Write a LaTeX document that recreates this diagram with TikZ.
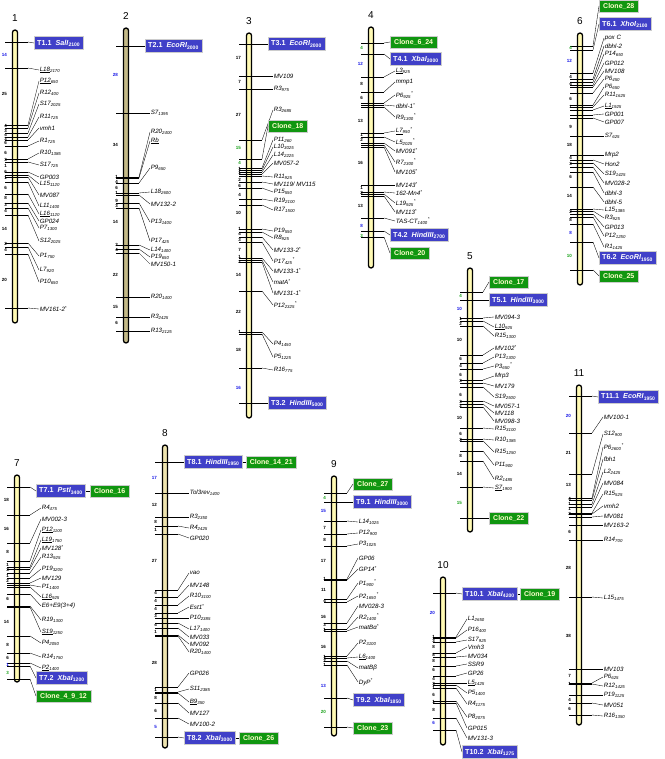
\documentclass[tikz,border=0pt]{standalone}
\usepackage{fontspec}
\setmainfont{Liberation Sans}
\usepackage{tikz}
\usetikzlibrary{positioning}
\definecolor{tblue}{RGB}{64,64,200}
\definecolor{cgreen}{RGB}{16,150,16}
\definecolor{ctext}{RGB}{255,255,205}
\definecolor{chryellow}{RGB}{255,250,180}
\definecolor{chrkhaki}{RGB}{196,186,136}
\definecolor{chrbeige}{RGB}{238,228,176}
\definecolor{distblue}{RGB}{20,20,230}
\definecolor{distgreen}{RGB}{20,160,20}
\tikzset{
  chrbar/.style={draw=black, line width=1.3pt, rounded corners=2.5pt, fill=chryellow},
  tickline/.style={line width=0.8pt},
  lead/.style={line width=0.35pt},
  mlab/.style={anchor=west, inner sep=0.6pt, font=\fontsize{6.2}{6.5}\selectfont\itshape},
  tbox/.style={anchor=west, fill=tblue, draw=gray!40, text=white, inner xsep=3pt,
    inner ysep=0pt, minimum height=13pt, font=\fontsize{7.2}{8}\selectfont\bfseries},
  cbox/.style={anchor=west, fill=cgreen, draw=gray!40, text=ctext, inner xsep=4pt,
    inner ysep=0pt, minimum height=12pt, font=\fontsize{7}{8}\selectfont\bfseries},
  dist/.style={anchor=east, inner sep=0pt, font=\fontsize{4.5}{5}\selectfont\bfseries},
  chrnum/.style={font=\fontsize{10}{11}\selectfont}
}
\newcounter{mkc}
\newcounter{dkc}
\newcommand{\lo}[1]{\textsubscript{#1}}
\newcommand{\sta}{\textsuperscript{*}}
% chromosome: name, x, top, bottom, number, fill
\newcommand{\chrom}[6]{%
  \draw[chrbar, fill=#6] (#2-2.5,#3) rectangle (#2+2.5,#4);
  \node[chrnum] (#1) at (#2,#3-12) {#5};}
% marker: x, tick y, label y, label
\newcommand{\mk}[4]{%
  \stepcounter{mkc}\edef\mkn{\arabic{mkc}}%
  \draw[tickline] (#1-10,#2) -- (#1+13,#2) coordinate (t\mkn);
  \node[mlab] (m\mkn) at (#1+24,#3) {#4};
  \draw[lead] (t\mkn) -- (m\mkn.west);}
% insertion box: name, x, tick y, box y, text
\newcommand{\tb}[5]{%
  \draw[tickline] (#2-10,#3) -- (#2+13,#3) coordinate (#1t);
  \node[tbox] (#1) at (#2+19,#4) {#5};
  \draw[lead] (#1t) -- (#1.west);}
% clone box: name, x, tick y, box y, text
\newcommand{\cb}[5]{%
  \draw[tickline] (#2-10,#3) -- (#2+13,#3) coordinate (#1t);
  \node[cbox] (#1) at (#2+19,#4) {#5};
  \draw[lead] (#1t) -- (#1.west);}
% distance: x, y, text
\newcommand{\dn}[3]{\stepcounter{dkc}\node[dist] (d\arabic{dkc}) at (#1-8,#2) {#3};}

\begin{document}
\begin{tikzpicture}[x=1pt, y=-1pt]
\useasboundingbox (0,0) rectangle (664,759);

% chromosome 1
\chrom{n1}{15}{30}{323}{1}{chryellow}
\tb{T11}{15}{42}{43}{T1.1\ \ \textit{SalI}\lo{2100}}
\mk{15}{68}{70}{\underline{L18}\lo{2170}}
\mk{15}{125}{81}{\underline{P12}\lo{650}}
\mk{15}{128}{93}{R12\lo{400}}
\mk{15}{133}{104}{S17\lo{2025}}
\mk{15}{137}{117}{R11\lo{725}}
\mk{15}{140}{128}{vmh1}
\mk{15}{146}{141}{R1\lo{725}}
\mk{15}{159}{153}{R10\lo{1385}}
\mk{15}{162}{165}{S17\lo{725}}
\mk{15}{172}{177}{GP003}
\mk{15}{175}{184}{L15\lo{1120}}
\mk{15}{177}{195}{MV087}
\mk{15}{182}{206}{L11\lo{1400}}
\mk{15}{194}{214}{\underline{L16}\lo{1120}}
\mk{15}{203}{221}{GP024}
\mk{15}{208}{228}{P7\lo{1300}}
\mk{15}{215}{241}{S12\lo{2025}}
\mk{15}{243}{256}{P1\lo{750}}
\mk{15}{247}{270}{L7\lo{920}}
\mk{15}{254}{282}{P10\lo{650}}
\mk{15}{308}{309}{MV161-2\sta}
\dn{15}{55}{\color{distblue}14}
\dn{15}{94}{25}
\dn{15}{126}{4}\dn{15}{131}{3}\dn{15}{135}{4}\dn{15}{139}{3}\dn{15}{143}{6}
\dn{15}{153}{6}\dn{15}{160}{3}\dn{15}{166}{1}\dn{15}{172}{6}\dn{15}{178}{1}
\dn{15}{188}{6}\dn{15}{198}{8}\dn{15}{205}{3}\dn{15}{211}{4}\dn{15}{229}{14}
\dn{15}{244}{2}\dn{15}{250}{4}\dn{15}{280}{20}

% chromosome 2
\chrom{n2}{126}{28}{343}{2}{chrkhaki}
\tb{T21}{126}{46}{46}{T2.1\ \ \textit{EcoRI}\lo{2000}}
\mk{126}{113}{113}{S7\lo{1395}}
\mk{126}{177}{132}{R20\lo{2400}}
\mk{126}{178}{141}{\underline{Rb}}
\mk{126}{183}{168}{P9\lo{650}}
\mk{126}{193}{192}{L18\lo{2600}}
\mk{126}{195}{204}{MV132-2}
\mk{126}{203}{222}{P13\lo{1400}}
\mk{126}{208}{241}{P17\lo{425}}
\mk{126}{245}{250}{L14\lo{1400}}
\mk{126}{249}{257}{P19\lo{650}}
\mk{126}{253}{264}{MV150-1}
\mk{126}{297}{297}{R20\lo{1400}}
\mk{126}{317}{317}{R3\lo{2425}}
\mk{126}{331}{331}{R13\lo{2125}}
\dn{126}{75}{\color{distblue}28}
\dn{126}{145}{34}
\dn{126}{177}{1}\dn{126}{182}{4}\dn{126}{188}{6}\dn{126}{193}{1}\dn{126}{201}{9}
\dn{126}{206}{3}\dn{126}{222}{14}\dn{126}{245}{3}\dn{126}{250}{4}\dn{126}{275}{22}
\dn{126}{307}{15}\dn{126}{323}{6}

% chromosome 3
\chrom{n3}{249}{33}{418}{3}{chryellow}
\tb{T31}{249}{44}{44}{T3.1\ \ \textit{EcoRI}\lo{2000}}
\mk{249}{76}{76}{MV109}
\mk{249}{89}{89}{R3\lo{975}}
\mk{249}{140}{110}{R3\lo{2685}}
\cb{C18}{249}{159}{126}{Clone\_18}
\mk{249}{168}{140}{P11\lo{260}}
\mk{249}{170}{147}{L10\lo{3025}}
\mk{249}{172}{155}{L14\lo{2225}}
\mk{249}{174}{163}{MV057-2}
\mk{249}{176}{177}{R11\lo{925}}
\mk{249}{182}{184}{MV119/ MV115}
\mk{249}{188}{192}{P15\lo{550}}
\mk{249}{199}{201}{R19\lo{2100}}
\mk{249}{205}{210}{R17\lo{1500}}
\mk{249}{229}{231}{P19\lo{550}}
\mk{249}{232}{238}{R8\lo{925}}
\mk{249}{237}{250}{MV133-2\sta}
\mk{249}{242}{261}{P17\lo{425}\sta}
\mk{249}{258}{271}{MV133-1\sta}
\mk{249}{260}{282}{matA\sta}
\mk{249}{262}{293}{MV131-1\sta}
\mk{249}{291}{305}{P12\lo{2325}\sta}
\mk{249}{332}{344}{P4\lo{1450}}
\mk{249}{334}{357}{P5\lo{1225}}
\mk{249}{368}{370}{R16\lo{775}}
\tb{T32}{249}{403}{403}{T3.2\ \ \textit{HindIII}\lo{5000}}
\dn{249}{58}{17}\dn{249}{82}{7}\dn{249}{115}{27}
\dn{249}{148}{\color{distgreen}15}\dn{249}{163}{\color{distgreen}4}
\dn{249}{169}{1}\dn{249}{173}{1}\dn{249}{180}{2}\dn{249}{186}{6}\dn{249}{195}{4}
\dn{249}{213}{10}\dn{249}{229}{1}\dn{249}{234}{4}\dn{249}{240}{3}\dn{249}{250}{7}
\dn{249}{257}{1}\dn{249}{262}{2}\dn{249}{275}{14}\dn{249}{312}{22}\dn{249}{332}{1}
\dn{249}{350}{18}\dn{249}{388}{\color{distblue}16}

% chromosome 4
\chrom{n4}{371}{27}{268}{4}{chryellow}
\cb{C624}{371}{43}{42}{Clone\_6\_24}
\tb{T41}{371}{54}{59}{T4.1\ \ \textit{XbaI}\lo{2000}}
\mk{371}{77}{71}{\underline{L3}\lo{925}}
\mk{371}{92}{82}{mmp1}
\mk{371}{103}{95}{P6\lo{925}\sta}
\mk{371}{105}{106}{dbhl-1\sta}
\mk{371}{107}{117}{R9\lo{1300}\sta}
\mk{371}{133}{131}{\underline{L7}\lo{950}\sta}
\mk{371}{137}{142}{L5\lo{2025}\sta}
\mk{371}{143}{151}{MV091\sta}
\mk{371}{145}{162}{R7\lo{2300}\sta}
\mk{371}{147}{172}{MV105\sta}
\mk{371}{185}{185}{MV143\sta}
\mk{371}{192}{193}{162-Mn4\sta}
\mk{371}{194}{203}{L19\lo{925}\sta}
\mk{371}{196}{212}{MV113\sta}
\mk{371}{218}{221}{TAS-CT\lo{1400}\sta}
\tb{T42}{371}{231}{235}{T4.2\ \ \textit{HindIII}\lo{2700}}
\cb{C20}{371}{237}{253}{Clone\_20}
\dn{371}{48}{\color{distgreen}4}\dn{371}{64}{\color{distblue}12}
\dn{371}{84}{8}\dn{371}{98}{6}\dn{371}{121}{13}\dn{371}{135}{1}\dn{371}{140}{2}
\dn{371}{163}{16}\dn{371}{188}{1}\dn{371}{193}{2}\dn{371}{206}{13}
\dn{371}{226}{\color{distblue}8}\dn{371}{236}{\color{distgreen}3}

% chromosome 5
\chrom{n5}{470}{268}{532}{5}{chryellow}
\cb{C17}{470}{292}{282}{Clone\_17}
\tb{T51}{470}{300}{300}{T5.1\ \ \textit{HindIII}\lo{3000}}
\mk{470}{318}{317}{MV094-3}
\mk{470}{321}{327}{\underline{L10}\lo{925}}
\mk{470}{326}{336}{R15\lo{1300}}
\mk{470}{355}{348}{MV102\sta}
\mk{470}{363}{357}{P13\lo{1300}}
\mk{470}{369}{366}{P3\lo{650}\sta}
\mk{470}{380}{376}{Mrp3}
\mk{470}{383}{386}{MV179}
\mk{470}{387}{397}{S19\lo{2500}}
\mk{470}{401}{406}{MV057-1}
\mk{470}{404}{413}{MV118}
\mk{470}{407}{421}{MV098-3}
\mk{470}{428}{429}{R15\lo{3100}}
\mk{470}{439}{440}{R10\lo{1385}}
\mk{470}{441}{452}{R15\lo{1250}}
\mk{470}{451}{465}{P11\lo{900}}
\mk{470}{461}{479}{R2\lo{1485}}
\mk{470}{487}{488}{\underline{S7}\lo{1900}}
\cb{C22}{470}{518}{518}{Clone\_22}
\dn{470}{296}{\color{distgreen}4}\dn{470}{309}{\color{distblue}10}
\dn{470}{319}{1}\dn{470}{324}{2}\dn{470}{340}{10}\dn{470}{359}{6}\dn{470}{366}{4}
\dn{470}{375}{6}\dn{470}{381}{3}\dn{470}{395}{6}\dn{470}{402}{3}\dn{470}{406}{2}
\dn{470}{418}{10}\dn{470}{434}{6}\dn{470}{440}{3}\dn{470}{456}{8}\dn{470}{474}{14}
\dn{470}{503}{\color{distgreen}15}

% chromosome 6
\chrom{n6}{580}{33}{285}{6}{chryellow}
\cb{C28}{580}{46}{6}{Clone\_28}
\tb{T61}{580}{50}{24}{T6.1\ \ \textit{XhoI}\lo{2100}}
\mk{580}{73}{38}{pox C}
\mk{580}{79}{46}{dbhl-2}
\mk{580}{82}{54}{P14\lo{650}}
\mk{580}{85}{63}{GP012}
\mk{580}{87}{71}{MV108}
\mk{580}{93}{79}{P6\lo{450}}
\mk{580}{105}{87}{P6\lo{650}}
\mk{580}{107}{95}{R11\lo{1625}}
\mk{580}{110}{106}{\underline{L1}\lo{1925}}
\mk{580}{115}{114}{GP001}
\mk{580}{118}{122}{GP007}
\mk{580}{136}{136}{S7\lo{625}}
\mk{580}{155}{155}{Mrp2}
\mk{580}{160}{164}{Hon2}
\mk{580}{163}{174}{S19\lo{1425}}
\mk{580}{167}{183}{MV028-2}
\mk{580}{172}{193}{dbhl-3}
\mk{580}{187}{202}{dbhl-5}
\mk{580}{209}{210}{L15\lo{1385}}
\mk{580}{211}{218}{R3\lo{925}}
\mk{580}{214}{227}{GP013}
\mk{580}{217}{236}{P12\lo{1250}}
\mk{580}{224}{247}{R1\lo{1425}}
\tb{T62}{580}{242}{258}{T6.2\ \ \textit{EcoRI}\lo{1950}}
\cb{C25}{580}{270}{276}{Clone\_25}
\dn{580}{48}{\color{distgreen}4}\dn{580}{61}{\color{distblue}12}
\dn{580}{77}{4}\dn{580}{84}{4}\dn{580}{99}{6}\dn{580}{107}{1}\dn{580}{127}{9}
\dn{580}{145}{18}\dn{580}{158}{4}\dn{580}{164}{3}\dn{580}{177}{6}\dn{580}{196}{14}
\dn{580}{212}{2}\dn{580}{220}{8}\dn{580}{233}{\color{distblue}8}
\dn{580}{256}{\color{distgreen}10}

% chromosome 7
\chrom{n7}{17}{475}{682}{7}{chryellow}
\tb{T71}{17}{487}{491}{T7.1\ \ \textit{PstI}\lo{3400}}
\node[cbox, right=4pt of T71] (C16) {Clone\_16};
\draw[lead] (T71) -- (C16);
\mk{17}{515}{508}{R4\lo{475}}
\mk{17}{543}{519}{MV002-3}
\mk{17}{561}{530}{\underline{P12}\lo{1100}}
\mk{17}{567}{540}{\underline{L19}\lo{1750}}
\mk{17}{569}{548}{MV128\sta}
\mk{17}{573}{557}{R13\lo{925}}
\mk{17}{578}{569}{P19\lo{3200}}
\mk{17}{583}{578}{MV129}
\mk{17}{585}{587}{P1\lo{1400}}
\mk{17}{587}{597}{\underline{L16}\lo{925}}
\mk{17}{594}{606}{E6+E9(3+4)}
\mk{17}{606}{620}{R19\lo{1300}}
\mk{17}{607}{632}{\underline{S19}\lo{1250}}
\mk{17}{636}{643}{P4\lo{2050}}
\mk{17}{653}{657}{R14\lo{1750}}
\mk{17}{663}{668}{\underline{P2}\lo{1400}}
\tb{T72}{17}{666}{678}{T7.2\ \ \textit{XbaI}\lo{1200}}
\cb{C4912}{17}{679}{696}{Clone\_4\_9\_12}
\dn{17}{500}{18}\dn{17}{529}{16}\dn{17}{552}{8}\dn{17}{565}{1}\dn{17}{570}{3}
\dn{17}{576}{1}\dn{17}{581}{2}\dn{17}{599}{6}\dn{17}{622}{14}\dn{17}{645}{8}
\dn{17}{658}{6}\dn{17}{665}{\color{distblue}1}\dn{17}{673}{\color{distgreen}3}

% chromosome 8
\chrom{n8}{165}{445}{748}{8}{chrbeige}
\tb{T81}{165}{462}{462}{T8.1\ \ \textit{HindIII}\lo{1950}}
\node[cbox, right=3pt of T81] (C1421) {Clone\_14\_21};
\draw[lead] (T81) -- (C1421);
\mk{165}{493}{493}{Tol3rev\lo{1400}}
\mk{165}{517}{517}{R3\lo{2350}}
\mk{165}{526}{528}{R4\lo{2425}}
\mk{165}{534}{538}{GP020}
\mk{165}{590}{573}{vao}
\mk{165}{597}{585}{MV148}
\mk{165}{605}{596}{R10\lo{3100}}
\mk{165}{613}{607}{Est1\sta}
\mk{165}{618}{618}{P10\lo{2385}}
\mk{165}{623}{629}{L17\lo{1400}}
\mk{165}{628}{637}{MV033}
\mk{165}{635}{644}{MV092}
\mk{165}{636}{652}{R20\lo{1400}}
\mk{165}{687}{673}{GP026}
\mk{165}{692}{689}{S11\lo{2385}}
\mk{165}{693}{702}{\underline{B9}\lo{350}}
\mk{165}{703}{713}{MV127}
\mk{165}{718}{724}{MV100-2}
\tb{T82}{165}{737}{738}{T8.2\ \ \textit{XbaI}\lo{3000}}
\node[cbox, right=3pt of T82] (C26) {Clone\_26};
\draw[lead] (T82) -- (C26);
\dn{165}{478}{\color{distblue}17}\dn{165}{505}{12}\dn{165}{522}{8}\dn{165}{530}{1}
\dn{165}{561}{27}\dn{165}{593}{4}\dn{165}{601}{4}\dn{165}{609}{4}\dn{165}{616}{3}
\dn{165}{625}{4}\dn{165}{632}{1}\dn{165}{663}{28}\dn{165}{690}{1}\dn{165}{698}{8}
\dn{165}{711}{6}\dn{165}{727}{\color{distblue}5}

% chromosome 9
\chrom{n9}{334}{476}{736}{9}{chryellow}
\cb{C27}{334}{493}{484}{Clone\_27}
\tb{T91}{334}{502}{502}{T9.1\ \ \textit{HindIII}\lo{3000}}
\mk{334}{521}{522}{L14\lo{1025}}
\mk{334}{534}{533}{P12\lo{900}}
\mk{334}{546}{544}{P3\lo{1025}}
\mk{334}{579}{558}{GP06}
\mk{334}{580}{569}{GP14\sta}
\mk{334}{599}{583}{P1\lo{900}\sta}
\mk{334}{602}{596}{P2\lo{1650}\sta}
\mk{334}{623}{606}{MV028-3}
\mk{334}{629}{617}{R2\lo{1400}\sta}
\mk{334}{631}{627}{matBα\sta}
\mk{334}{656}{643}{P2\lo{3100}}
\mk{334}{658}{657}{\underline{L6}\lo{1400}}
\mk{334}{661}{668}{matBβ}
\mk{334}{665}{682}{DyP\sta}
\tb{T92}{334}{698}{700}{T9.2\ \ \textit{XbaI}\lo{1850}}
\cb{C23}{334}{727}{728}{Clone\_23}
\dn{334}{498}{\color{distgreen}4}\dn{334}{511}{\color{distblue}15}
\dn{334}{528}{7}\dn{334}{540}{8}\dn{334}{561}{17}\dn{334}{579}{1}\dn{334}{590}{11}
\dn{334}{601}{4}\dn{334}{617}{16}\dn{334}{625}{3}\dn{334}{630}{1}\dn{334}{647}{16}
\dn{334}{657}{1}\dn{334}{661}{2}\dn{334}{665}{1}\dn{334}{686}{\color{distblue}13}
\dn{334}{712}{\color{distgreen}20}

% chromosome 10
\chrom{n10}{443}{577}{745}{10}{chryellow}
\tb{T101}{443}{593}{594}{T10.1\ \ \textit{XbaI}\lo{4200}}
\node[cbox, right=2pt of T101] (C19) {Clone\_19};
\draw[lead] (T101) -- (C19);
\mk{443}{637}{619}{L1\lo{2650}}
\mk{443}{638}{630}{P16\lo{400}}
\mk{443}{642}{640}{S17\lo{925}}
\mk{443}{653}{647}{Vmh3}
\mk{443}{657}{656}{MV034}
\mk{443}{666}{664}{SSR9}
\mk{443}{676}{673}{GP26}
\mk{443}{683}{683}{\underline{L5}\lo{1425}}
\mk{443}{685}{693}{P5\lo{1400}}
\mk{443}{688}{704}{R4\lo{1175}}
\mk{443}{701}{717}{P8\lo{2075}}
\mk{443}{703}{728}{GP015}
\mk{443}{718}{738}{MV131-3}
\tb{T102}{443}{730}{752}{T10.2\ \ \textit{XbaI}\lo{1275}}
\dn{443}{613}{\color{distblue}20}\dn{443}{637}{1}\dn{443}{641}{3}\dn{443}{647}{8}
\dn{443}{655}{8}\dn{443}{661}{8}\dn{443}{670}{6}\dn{443}{679}{4}\dn{443}{684}{3}
\dn{443}{688}{1}\dn{443}{695}{6}\dn{443}{702}{1}\dn{443}{710}{8}
\dn{443}{723}{\color{distblue}6}

% chromosome 11
\chrom{n11}{579}{385}{725}{11}{chryellow}
\tb{T111}{579}{396}{397}{T11.1\ \ \textit{EcoRI}\lo{1950}}
\mk{579}{433}{417}{MV100-1}
\mk{579}{474}{434}{S12\lo{900}}
\mk{579}{498}{447}{P6\lo{2600}\sta}
\mk{579}{500}{459}{fbh1}
\mk{579}{504}{472}{L2\lo{2425}}
\mk{579}{507}{483}{MV084}
\mk{579}{513}{494}{R15\lo{525}}
\mk{579}{514}{506}{vmh2}
\mk{579}{517}{516}{MV081}
\mk{579}{525}{525}{MV163-2}
\mk{579}{540}{540}{R14\lo{700}}
\mk{579}{597}{598}{L15\lo{1475}}
\mk{579}{669}{669}{MV103}
\mk{579}{683}{677}{P6\lo{625}}
\mk{579}{684}{686}{R12\lo{1425}}
\mk{579}{695}{695}{P19\lo{1125}}
\mk{579}{703}{705}{MV051}
\mk{579}{715}{716}{R16\lo{1350}}
\dn{579}{416}{\color{distblue}20}\dn{579}{453}{21}\dn{579}{485}{13}\dn{579}{499}{4}
\dn{579}{504}{1}\dn{579}{509}{1}\dn{579}{514}{2}\dn{579}{532}{6}\dn{579}{568}{28}
\dn{579}{636}{38}\dn{579}{676}{7}\dn{579}{684}{1}\dn{579}{700}{4}\dn{579}{709}{6}
\end{tikzpicture}
\end{document}
